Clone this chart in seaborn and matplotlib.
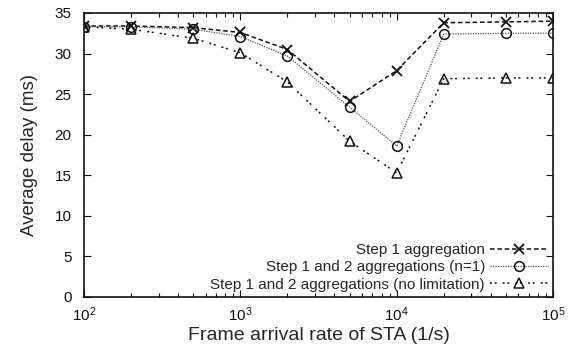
import matplotlib
matplotlib.use("Agg")
import matplotlib.pyplot as plt
import seaborn as sns
import numpy as np
from matplotlib.ticker import LogLocator, NullFormatter, MultipleLocator

rate = [100, 200, 500, 1000, 2000, 5000, 10000, 20000, 50000, 100000]
step1 = [33.4, 33.4, 33.2, 32.6, 30.5, 24.1, 27.9, 33.8, 33.9, 34.0]
step12_n1 = [33.3, 33.3, 33.0, 32.1, 29.7, 23.4, 18.6, 32.4, 32.5, 32.5]
step12_nolim = [33.3, 33.0, 31.9, 30.1, 26.5, 19.2, 15.3, 26.9, 27.0, 27.0]

labels = ["Step 1 aggregation",
          "Step 1 and 2 aggregations (n=1)",
          "Step 1 and 2 aggregations (no limitation)"]

sns.set_style("ticks")
plt.rcParams['font.family'] = ['Liberation Sans', 'DejaVu Sans']
plt.rcParams['mathtext.fontset'] = 'custom'
plt.rcParams['mathtext.rm'] = 'Liberation Sans'

fig = plt.figure(figsize=(5.73, 3.56), dpi=100)
ax = fig.add_axes([84/573, 59/356, (553-84)/573, (297-13)/356])

ink = '#111111'
sns.lineplot(x=rate, y=step1, ax=ax, color=ink, linewidth=1.1,
             linestyle=(0, (3, 1.8)), marker='x', markersize=7.5,
             markeredgecolor=ink, markeredgewidth=1.3, label=labels[0])
sns.lineplot(x=rate, y=step12_n1, ax=ax, color='#555555', linewidth=0.9,
             linestyle=(0, (1, 1)), marker='o', markersize=7,
             markerfacecolor='none', markeredgecolor=ink,
             markeredgewidth=1.1, label=labels[1])
sns.lineplot(x=rate, y=step12_nolim, ax=ax, color=ink, linewidth=1.1,
             linestyle=(0, (1.3, 1.7, 1.3, 4)), marker='^', markersize=7,
             markerfacecolor='none', markeredgecolor=ink,
             markeredgewidth=1.1, label=labels[2])

ax.set_xscale('log')
ax.set_xlim(100, 100000)
ax.set_ylim(0, 35)
ax.yaxis.set_major_locator(MultipleLocator(5))
ax.xaxis.set_major_locator(LogLocator(base=10, numticks=10))
ax.xaxis.set_minor_locator(LogLocator(base=10, subs=np.arange(2, 10), numticks=20))
ax.xaxis.set_minor_formatter(NullFormatter())

for s in ax.spines.values():
    s.set_visible(True)
    s.set_linewidth(1.2)
    s.set_color(ink)

ax.tick_params(which='both', direction='in', top=True, right=True,
               labelsize=11, colors=ink)
ax.tick_params(axis='y', pad=9)
ax.tick_params(axis='x', pad=6)
ax.tick_params(which='major', length=5, width=0.8)
ax.tick_params(which='minor', length=3, width=0.8)

ax.set_xlabel("Frame arrival rate of STA (1/s)", fontsize=14, labelpad=2)
ax.set_ylabel("Average delay (ms)", fontsize=13.5, labelpad=12)

leg = ax.legend(loc='lower right', markerfirst=False, frameon=False,
                fontsize=11, handlelength=3.8, handletextpad=0.3,
                labelspacing=0.22, borderaxespad=0.15, borderpad=0.2)

fig.savefig("out.png", dpi=100)
